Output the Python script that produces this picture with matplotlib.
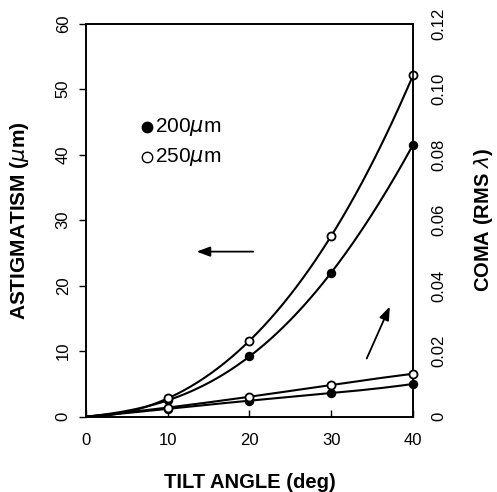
import numpy as np
import matplotlib
matplotlib.use("Agg")
import matplotlib.pyplot as plt

plt.rcParams['font.family'] = ['Liberation Sans', 'DejaVu Sans']

# tilt angle (deg)
tilt = [0, 10, 20, 30, 40]

# astigmatism (um), left axis
astig_200 = [0, 2.5, 9.2, 22.0, 41.5]
astig_250 = [0, 2.8, 11.6, 27.6, 52.1]

# coma (RMS lambda), right axis
coma_200 = [0, 0.0024, 0.0049, 0.0072, 0.0100]
coma_250 = [0, 0.0028, 0.0061, 0.0097, 0.0131]


def smooth(x, y):
    # polynomial through all the points, just for drawing the curve
    c = np.polyfit(x, y, len(x) - 1)
    xs = np.linspace(x[0], x[-1], 200)
    return xs, np.polyval(c, xs)


fig = plt.figure(figsize=(4.97, 4.92), dpi=100)
ax = fig.add_axes([0.173, 0.153, 0.658, 0.799])
ax2 = ax.twinx()

lw = 1.5
ms = 5.8
for y in (astig_200, astig_250):
    xs, ys = smooth(tilt, y)
    ax.plot(xs, ys, color='black', lw=lw, zorder=2)
ax.plot(tilt[1:], astig_200[1:], 'o', color='black', ms=ms, mec='black', clip_on=False, zorder=3)
ax.plot(tilt[1:], astig_250[1:], 'o', color='white', ms=ms, mec='black', mew=1.3, clip_on=False, zorder=3)

for y in (coma_200, coma_250):
    xs, ys = smooth(tilt, y)
    ax2.plot(xs, ys, color='black', lw=lw, zorder=2)
ax2.plot(tilt[1:], coma_200[1:], 'o', color='black', ms=ms, mec='black', clip_on=False, zorder=3)
ax2.plot(tilt[1:], coma_250[1:], 'o', color='white', ms=ms, mec='black', mew=1.3, clip_on=False, zorder=3)

ax.set_xlim(0, 40)
ax.set_ylim(0, 60)
ax2.set_ylim(0, 0.12)
ax.set_xticks([0, 10, 20, 30, 40])
ax.set_yticks([0, 10, 20, 30, 40, 50, 60])
ax2.set_yticks([0, 0.02, 0.04, 0.06, 0.08, 0.10, 0.12])
ax2.set_yticklabels(['0', '0.02', '0.04', '0.06', '0.08', '0.10', '0.12'])

ax.tick_params(axis='x', direction='in', length=5, width=1, labelsize=12, pad=12)
ax.tick_params(axis='y', direction='out', length=5, width=1, labelsize=12, pad=6)
for lab in ax.get_yticklabels():
    lab.set_rotation(90)
    lab.set_va('center')
ax2.tick_params(axis='y', length=0, labelsize=12, pad=13)
for lab in ax2.get_yticklabels():
    lab.set_rotation(90)
    lab.set_va('center')

for sp in ax.spines.values():
    sp.set_linewidth(1.2)
for sp in ax2.spines.values():
    sp.set_linewidth(1.2)

ax.set_xlabel('TILT ANGLE (deg)', fontsize=14.5, fontweight='bold', labelpad=18)
ax.set_ylabel(r'ASTIGMATISM ($\mu$m)', fontsize=15, fontweight='bold', labelpad=18)
ax2.set_ylabel(r'COMA (RMS $\lambda$)', fontsize=14.5, fontweight='bold', labelpad=19)

# legend drawn by hand like the original
ax.plot([7.5], [44.2], 'o', color='black', ms=7.5, clip_on=False)
ax.plot([7.5], [39.7], 'o', color='white', mec='black', mew=1.0, ms=7.5)
ax.text(8.5, 44.2, r'200$\mu$m', fontsize=15, va='center')
ax.text(8.5, 39.7, r'250$\mu$m', fontsize=15, va='center')

# arrows pointing to the axes
ax.annotate('', xy=(13.2, 25.2), xytext=(20.8, 25.2),
            arrowprops=dict(arrowstyle='-|>,head_length=0.8,head_width=0.3', color='black', lw=1.3))
ax.annotate('', xy=(37.3, 17.2), xytext=(34.2, 8.5),
            arrowprops=dict(arrowstyle='-|>,head_length=0.8,head_width=0.3', color='black', lw=1.3))

fig.savefig('out.png', dpi=100)
